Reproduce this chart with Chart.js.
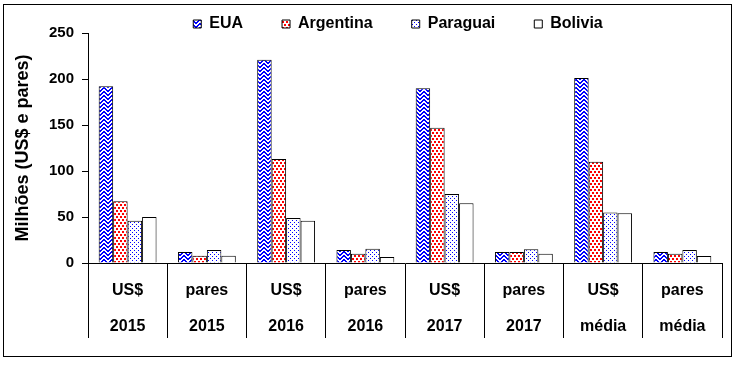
<!DOCTYPE html>
<html>
<head>
<meta charset="utf-8">
<script src="https://cdn.jsdelivr.net/npm/chart.js@4/dist/chart.umd.min.js"></script>
<style>
  html, body { margin: 0; padding: 0; background: #fff; }
  #wrap { position: relative; width: 741px; height: 366px; }
</style>
</head>
<body>
<div id="wrap"><canvas id="chart" width="741" height="366"></canvas></div>
<script>
// Exportações de calçados por destino (US$ e pares)
const catTop = ['US$', 'pares', 'US$', 'pares', 'US$', 'pares', 'US$', 'pares'];
const catBottom = ['2015', '2015', '2016', '2016', '2017', '2017', 'média', 'média'];
const seriesNames = ['EUA', 'Argentina', 'Paraguai', 'Bolivia'];
const euaValues = [192, 12, 221, 14, 190, 12, 201, 12];
const argentinaValues = [67, 8, 113, 10, 147, 12, 110, 10];
const paraguaiValues = [46, 14, 49, 15.5, 75, 15, 55, 14];
const boliviaValues = [50, 8, 46, 6.5, 65, 10, 54, 7.5];
const yTicks = [0, 50, 100, 150, 200, 250];

const FONT = '"Liberation Sans", Arial, sans-serif';

// small bitmap fills like the old spreadsheet patterns
function makePattern(rows, color) {
  const c = document.createElement('canvas');
  c.width = rows[0].length;
  c.height = rows.length;
  const g = c.getContext('2d');
  g.fillStyle = '#fff';
  g.fillRect(0, 0, c.width, c.height);
  g.fillStyle = color;
  rows.forEach((r, y) => {
    [...r].forEach((ch, x) => { if (ch === '1') g.fillRect(x, y, 1, 1); });
  });
  return g.createPattern(c, 'repeat');
}

const zigzag = makePattern(['11000011', '01100110', '00111100', '10011001'], '#0000ff');
const redDots = makePattern(['1100', '1100', '0000', '0011', '0011', '0000'], '#ff0000');
const blueDots = makePattern(['1000', '0000', '0010', '0000'], '#0000ff');

// frame around the whole picture + legend placement
const framePlugin = {
  id: 'frame',
  beforeDraw(chart) {
    const ctx = chart.ctx;
    ctx.save();
    ctx.fillStyle = '#fff';
    ctx.fillRect(0, 0, chart.width, chart.height);
    ctx.strokeStyle = '#000';
    ctx.lineWidth = 1;
    ctx.strokeRect(3.5, 4.5, 728, 352);
    ctx.restore();
  },
  afterLayout(chart) {
    const lg = chart.legend;
    lg.top = -23;
    lg.bottom = chart.chartArea.top;
    lg.left = 74;
    lg.right = chart.chartArea.right;
  }
};

const labels = catTop.map((t, i) => [t, catBottom[i]]);
const fills = [zigzag, redDots, blueDots, '#ffffff'];
const values = [euaValues, argentinaValues, paraguaiValues, boliviaValues];

new Chart(document.getElementById('chart'), {
  type: 'bar',
  data: {
    labels: labels,
    datasets: seriesNames.map((name, i) => ({
      label: name,
      data: values[i],
      backgroundColor: fills[i],
      borderColor: '#000',
      borderWidth: 1,
      categoryPercentage: 0.73,
      barPercentage: 1
    }))
  },
  options: {
    responsive: false,
    animation: false,
    layout: { padding: { left: 0, right: 19, top: 0, bottom: 23 } },
    plugins: {
      tooltip: { enabled: false },
      legend: {
        position: 'top',
        maxHeight: 33,
        labels: {
          color: '#000',
          font: { family: FONT, size: 16, weight: 'bold' },
          boxWidth: 8,
          boxHeight: 8,
          padding: 39
        }
      }
    },
    scales: {
      x: {
        grid: { offset: true, drawOnChartArea: false, tickLength: 75, color: '#000' },
        border: { color: '#000', width: 1 },
        ticks: {
          color: '#000',
          padding: -65,
          maxRotation: 0,
          autoSkip: false,
          font: { family: FONT, size: 16, weight: 'bold', lineHeight: 2.25 }
        },
        afterFit(scale) { scale.height = 80; }
      },
      y: {
        min: 0,
        max: 250,
        afterBuildTicks(scale) { scale.ticks = yTicks.map(v => ({ value: v })); },
        grid: { drawOnChartArea: false, tickLength: 6, color: '#000' },
        border: { color: '#000', width: 1 },
        ticks: {
          color: '#000',
          padding: 8,
          font: { family: FONT, size: 15, weight: 'bold' }
        },
        title: {
          display: true,
          text: 'Milhões (US$ e pares)',
          color: '#000',
          padding: { top: 12, bottom: 0 },
          font: { family: FONT, size: 18, weight: 'bold' }
        },
        afterFit(scale) { scale.width = 88; }
      }
    }
  },
  plugins: [framePlugin]
});
</script>
</body>
</html>
